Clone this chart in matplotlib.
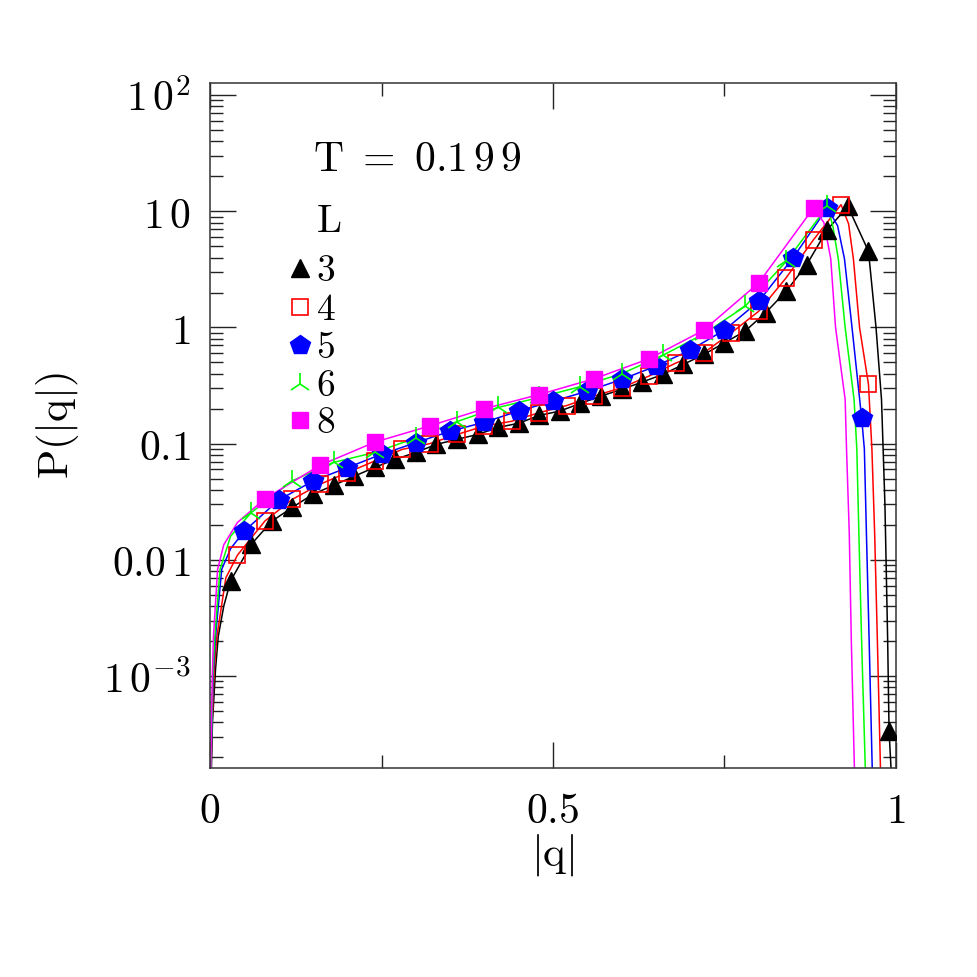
import numpy as np
import matplotlib
matplotlib.use('Agg')
import matplotlib.pyplot as plt
from matplotlib.ticker import FixedLocator, FixedFormatter, LogLocator, NullFormatter

# marker data (q, P(|q|)) for each L at T = 0.199
q3 = [0.03, 0.06, 0.09, 0.12, 0.15, 0.18, 0.21, 0.24, 0.27, 0.30, 0.33,
      0.36, 0.39, 0.42, 0.45, 0.48, 0.51, 0.54, 0.57, 0.60, 0.63, 0.66,
      0.69, 0.72, 0.75, 0.78, 0.81, 0.84, 0.87, 0.90, 0.93, 0.96, 0.99]
P3 = [0.0066, 0.0136, 0.0215, 0.0283, 0.0367, 0.0438, 0.0524, 0.0625,
      0.0733, 0.0841, 0.0986, 0.109, 0.120, 0.138, 0.150, 0.175, 0.191,
      0.222, 0.257, 0.293, 0.339, 0.394, 0.481, 0.586, 0.738, 0.93, 1.34,
      2.05, 3.48, 6.96, 11.0, 4.53, 0.00034]

q4 = [0.04, 0.08, 0.12, 0.16, 0.20, 0.24, 0.28, 0.32, 0.36, 0.40, 0.44,
      0.48, 0.52, 0.56, 0.60, 0.64, 0.68, 0.72, 0.76, 0.80, 0.84, 0.88,
      0.92, 0.96]
P4 = [0.011, 0.0216, 0.0332, 0.0447, 0.0563, 0.0709, 0.0893, 0.100,
      0.120, 0.142, 0.156, 0.185, 0.213, 0.257, 0.303, 0.382, 0.497, 0.606,
      0.90, 1.38, 2.68, 5.71, 11.4, 0.324]

q5 = [0.05, 0.10, 0.15, 0.20, 0.25, 0.30, 0.35, 0.40, 0.45, 0.50, 0.55,
      0.60, 0.65, 0.70, 0.75, 0.80, 0.85, 0.90, 0.95]
P5 = [0.0177, 0.0327, 0.0477, 0.0622, 0.081, 0.102, 0.128, 0.153, 0.191,
      0.232, 0.283, 0.357, 0.465, 0.638, 0.95, 1.68, 3.97, 10.7, 0.167]

q6 = [0.06, 0.12, 0.18, 0.24, 0.30, 0.36, 0.42, 0.48, 0.54, 0.60, 0.66,
      0.72, 0.78, 0.84, 0.90]
P6 = [0.0255, 0.048, 0.069, 0.084, 0.112, 0.155, 0.205, 0.25, 0.31, 0.40,
      0.576, 0.88, 1.52, 3.7, 11.0]

q8 = [0.08, 0.16, 0.24, 0.32, 0.40, 0.48, 0.56, 0.64, 0.72, 0.80, 0.88]
P8 = [0.0336, 0.065, 0.103, 0.142, 0.2, 0.265, 0.362, 0.538, 0.95, 2.42, 10.7]

# extra points of the curves near |q| = 0 and beyond the peak
q3_tail = [0.0015, 0.0035, 0.008, 0.012, 0.02, 0.971, 0.979, 0.984, 0.988, 0.994]
P3_tail = [1.2e-4, 4e-4, 1.15e-3, 2.2e-3, 0.0040, 1.0, 0.24, 0.03, 0.002, 1.2e-4]
q4_tail = [0.001, 0.003, 0.006, 0.01, 0.023, 0.931, 0.938, 0.947, 0.965, 0.969, 0.973, 0.978]
P4_tail = [1.2e-4, 4e-4, 1.1e-3, 2.2e-3, 0.007, 7.8, 3.9, 1.0, 0.09, 0.017, 0.002, 1.2e-4]
q5_tail = [0.001, 0.0028, 0.0045, 0.008, 0.017, 0.03, 0.915, 0.925, 0.936, 0.954, 0.957, 0.961, 0.966]
P5_tail = [1.2e-4, 4e-4, 1.0e-3, 2.2e-3, 0.0083, 0.0125, 7.5, 3.9, 1.0, 0.09, 0.017, 0.002, 1.2e-4]
q6_tail = [0.001, 0.0025, 0.004, 0.007, 0.0146, 0.03, 0.908, 0.916, 0.926, 0.939, 0.943, 0.946, 0.950, 0.956]
P6_tail = [1.2e-4, 4e-4, 1.0e-3, 2.2e-3, 0.0083, 0.016, 7.5, 3.9, 1.0, 0.24, 0.09, 0.017, 0.002, 1.2e-4]
q8_tail = [0.0008, 0.002, 0.0035, 0.005, 0.011, 0.02, 0.04, 0.895, 0.905, 0.912, 0.926, 0.928, 0.932, 0.935, 0.940]
P8_tail = [1.2e-4, 4e-4, 1.1e-3, 2.2e-3, 0.0083, 0.0135, 0.021, 8.0, 3.9, 1.0, 0.24, 0.09, 0.017, 0.002, 1.2e-4]

sizes = ['3', '4', '5', '6', '8']
colors = ['black', '#ff0000', '#0000ff', '#00ff00', '#ff00ff']


def spaced(s):
    """Roman mathtext with a thin gap between neighbouring digits."""
    out = s[0]
    for a, b in zip(s[:-1], s[1:]):
        out += (r'\,' if a.isdigit() and b.isdigit() else '') + b
    return r'$\mathrm{' + out + '}$'


def curve(q, P, qt, Pt):
    qa = np.concatenate([q, qt])
    Pa = np.concatenate([P, Pt])
    order = np.argsort(qa)
    return qa[order], Pa[order]


def main():
    plt.rcParams['mathtext.fontset'] = 'cm'
    plt.rcParams['font.family'] = 'serif'
    plt.rcParams['font.serif'] = ['DejaVu Serif']

    fig = plt.figure(figsize=(9.77, 9.77), dpi=100)
    ax = fig.add_axes([0.215, 0.214, 0.702, 0.701])

    series = [(q3, P3, q3_tail, P3_tail), (q4, P4, q4_tail, P4_tail),
              (q5, P5, q5_tail, P5_tail), (q6, P6, q6_tail, P6_tail),
              (q8, P8, q8_tail, P8_tail)]
    styles = [dict(marker='^', ms=13, mfc='black', mec='black'),
              dict(marker='s', ms=11, mfc='none', mec='#ff0000', mew=1.2),
              dict(marker='p', ms=15, mfc='#0000ff', mec='#0000ff'),
              dict(marker='2', ms=16, mfc='none', mec='#00ff00', mew=1.2),
              dict(marker='s', ms=11, mfc='#ff00ff', mec='#ff00ff')]

    for (q, P, qt, Pt), c in zip(series, colors):
        qc, Pc = curve(q, P, qt, Pt)
        ax.plot(qc, Pc, color=c, lw=1.1, zorder=2)
    for (q, P, qt, Pt), st in zip(series, styles):
        ax.plot(q, P, ls='none', zorder=3, **st)

    ax.set_xlim(0, 1)
    ax.set_yscale('log')
    ax.set_ylim(1.62e-4, 127)

    # ticks
    ax.xaxis.set_major_locator(FixedLocator([0, 0.5, 1]))
    ax.xaxis.set_major_formatter(FixedFormatter([r'$0$', r'$0.5$', r'$1$']))
    ax.xaxis.set_minor_locator(FixedLocator([0.25, 0.75]))
    ydec = [1e-3, 1e-2, 1e-1, 1, 10, 100]
    ax.yaxis.set_major_locator(FixedLocator(ydec))
    ax.yaxis.set_major_formatter(FixedFormatter(
        [r'$1\,0^{-3}$', spaced('0.01'), spaced('0.1'), r'$1$', spaced('10'), r'$1\,0^{2}$']))
    ax.yaxis.set_minor_locator(LogLocator(base=10, subs=np.arange(2, 10), numticks=20))
    ax.yaxis.set_minor_formatter(NullFormatter())
    ax.tick_params(which='both', direction='in', top=True, right=True,
                   labelsize=30, width=1.0, colors='#222222', labelcolor='black')
    ax.tick_params(which='major', length=19)
    ax.tick_params(which='minor', length=9.5)
    ax.tick_params(axis='y', which='major', pad=14)
    ax.tick_params(axis='x', which='major', pad=16)
    for sp in ax.spines.values():
        sp.set_linewidth(1.1)
        sp.set_color('#333333')

    ax.set_xlabel(r'$|\mathrm{q}|$', fontsize=31, labelpad=0)
    ax.set_ylabel(r'$\mathrm{P}(|\mathrm{q}|)$', fontsize=31, labelpad=16)

    # annotation and hand-made legend
    ax.text(0.150, 0.889, r'$\mathrm{T\ =\ 0.1\,9\,9}$', transform=ax.transAxes,
            fontsize=30, va='center', ha='left')
    ax.text(0.155, 0.798, r'$\mathrm{L}$', transform=ax.transAxes,
            fontsize=29, va='center', ha='left')
    rows = [0.730, 0.673, 0.617, 0.561, 0.508]
    for lab, y, st in zip(sizes, rows, styles):
        ax.plot([0.131], [y], transform=ax.transAxes, ls='none', clip_on=False, **st)
        ax.text(0.155, y - 0.004, r'$\mathrm{' + lab + '}$', transform=ax.transAxes,
                fontsize=27, va='center', ha='left')

    fig.savefig('out.png', dpi=100)


if __name__ == '__main__':
    main()
